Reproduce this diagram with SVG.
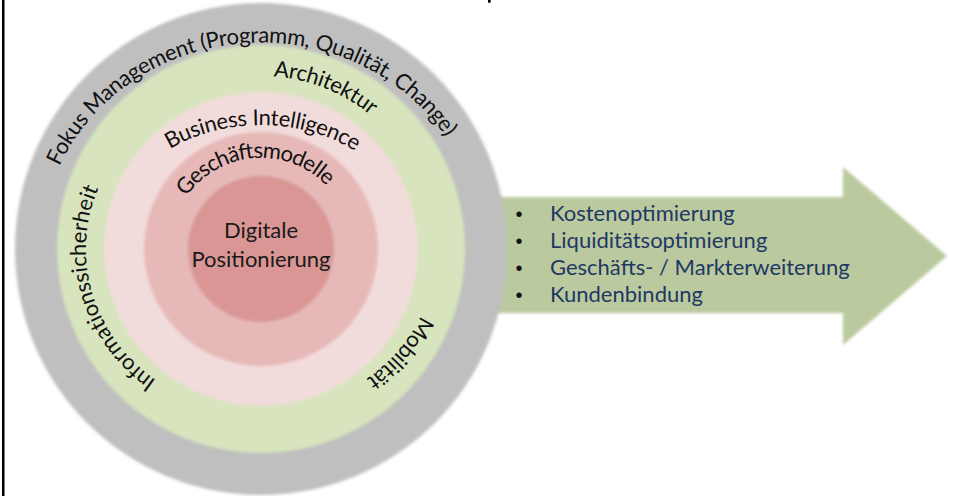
<svg xmlns="http://www.w3.org/2000/svg" width="958" height="496" viewBox="0 0 958 496">
  <style>
    .ring { font-family: Lato, "Open Sans", "Liberation Sans", sans-serif; font-size: 22px; fill: #111; }
    .center { font-family: Lato, "Open Sans", "Liberation Sans", sans-serif; font-size: 22px; fill: #1a1a1a; text-anchor: middle; }
    .list { font-family: Lato, "Open Sans", "Liberation Sans", sans-serif; font-size: 22px; fill: #1f3864; }
    .bullet { font-family: "Liberation Sans", sans-serif; font-size: 20px; fill: #111; text-anchor: middle; }
  </style>
  <defs>
    <filter id="soft" x="-10%" y="-10%" width="120%" height="120%">
      <feGaussianBlur stdDeviation="1.6"/>
    </filter>
    <path id="pFokus" d="M 54.1 163.6 A 226 212.5 0 1 1 78.8 374.8"/>
    <path id="pArch" d="M 274.4 70.5 A 179 179 0 1 1 171.5 404"/>
    <path id="pBI" d="M 167.2 143.7 A 160 130 0 1 1 160 350"/>
    <path id="pGes" d="M 181.1 192.2 A 98 98 0 1 1 180 304"/>
    <path id="pInfo" d="M 152.8 385.3 A 181 170 0 1 1 332.6 405.1"/>
    <path id="pMob" d="M 426.1 318.7 A 181 170 0 1 1 440 219"/>
  </defs>
  <rect x="0" y="0" width="958" height="496" fill="#ffffff"/>

  <g id="arrow">
    <path d="M 470 197 L 843 197 L 843 167 L 947 256 L 843 345 L 843 313 L 470 313 Z" fill="#bac99e" filter="url(#soft)"/>
  </g>

  <g id="ring-fokus">
    <circle cx="261" cy="249" r="246" fill="#bfbfbf" filter="url(#soft)"/>
  </g>
  <g id="ring-architektur">
    <circle cx="261" cy="249" r="204" fill="#d7e4bd" filter="url(#soft)"/>
  </g>
  <g id="ring-bi">
    <circle cx="261" cy="249" r="157" fill="#f2dcdb" filter="url(#soft)"/>
  </g>
  <g id="ring-geschaeftsmodelle">
    <circle cx="261" cy="249" r="117" fill="#e6b9b8" filter="url(#soft)"/>
  </g>
  <g id="core">
    <circle cx="261" cy="249" r="73" fill="#d99694" filter="url(#soft)"/>
    <text class="center" x="261" y="238">Digitale</text>
    <text class="center" x="261" y="267">Positionierung</text>
  </g>

  <g id="labels">
    <text class="ring"><textPath href="#pFokus"><tspan dy="6">Fokus Management (Programm, Qualität, Change)</tspan></textPath></text>
    <text class="ring"><textPath href="#pArch"><tspan dy="6">Architektur</tspan></textPath></text>
    <text class="ring"><textPath href="#pBI"><tspan dy="6">Business Intelligence</tspan></textPath></text>
    <text class="ring"><textPath href="#pGes"><tspan dy="7">Geschäftsmodelle</tspan></textPath></text>
    <text class="ring" letter-spacing="0.4"><textPath href="#pInfo"><tspan dy="6">Informationssicherheit</tspan></textPath></text>
    <text class="ring"><textPath href="#pMob"><tspan dy="6">Mobilität</tspan></textPath></text>
  </g>

  <g id="benefits">
    <text class="bullet" x="519" y="221">•</text>
    <text class="bullet" x="519" y="248">•</text>
    <text class="bullet" x="519" y="275">•</text>
    <text class="bullet" x="519" y="302">•</text>
    <text class="list" x="550" y="221">Kostenoptimierung</text>
    <text class="list" x="550" y="248">Liquiditätsoptimierung</text>
    <text class="list" x="550" y="275">Geschäfts-  / Markterweiterung</text>
    <text class="list" x="550" y="302">Kundenbindung</text>
  </g>

  <g id="frame">
    <rect x="2" y="0" width="2.5" height="496" fill="#000"/>
    <rect x="488" y="0" width="2.7" height="2.7" fill="#000"/>
  </g>
  <g id="connectors"/>
</svg>
